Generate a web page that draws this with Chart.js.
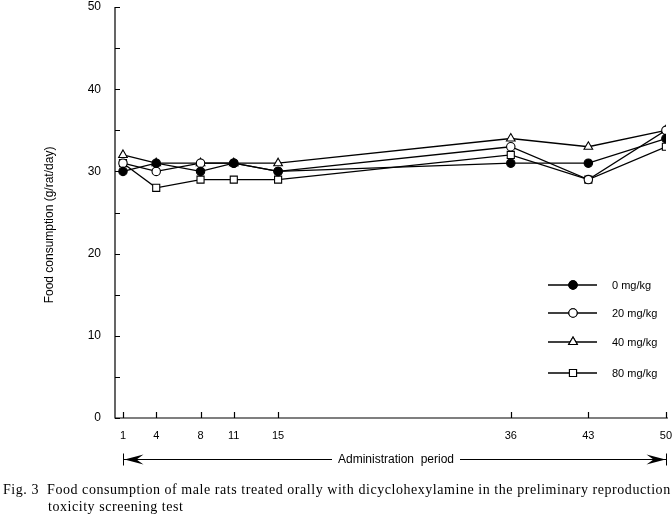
<!DOCTYPE html>
<html>
<head>
<meta charset="utf-8">
<script src="https://cdn.jsdelivr.net/npm/chart.js@4.4.0/dist/chart.umd.min.js"></script>
<style>
  body { margin: 0; background: #fff; }
  #wrap { position: relative; width: 672px; height: 515px; }
  #caption {
    position: absolute; left: 3px; top: 481px; width: 672px;
    font-family: "Liberation Serif", serif; font-size: 14px; line-height: 17px;
    letter-spacing: 0.55px; color: #000; white-space: nowrap;
  }
  #caption .ind { padding-left: 45px; }
</style>
</head>
<body>
<div id="wrap">
  <canvas id="grafico" width="672" height="515"></canvas>
  <div id="caption">Fig. 3&nbsp; Food consumption of male rats treated orally with dicyclohexylamine in the preliminary reproduction<br><span class="ind">toxicity screening test</span></div>
</div>
<script>
// dias de administracion
const dias = [1, 4, 8, 11, 15, 36, 43, 50];
const etiquetasDias = ['1', '4', '8', '11', '15', '36', '43', '50'];
const ticksY = [0, 10, 20, 30, 40, 50];

// consumo de alimento (g/rata/dia)
const dosis0 = [30, 31, 30, 31, 30, 31, 31, 34];
const dosis20 = [31, 30, 31, 31, 30, 33, 29, 35];
const dosis40 = [32, 31, 31, 31, 31, 34, 33, 35];
const dosis80 = [31, 28, 29, 29, 29, 32, 29, 33];

const nombres = ['0 mg/kg', '20 mg/kg', '40 mg/kg', '80 mg/kg'];
const estilos = [
  { pointStyle: 'circle', fill: '#000', r: 4.2 },
  { pointStyle: 'circle', fill: '#fff', r: 4.2 },
  { pointStyle: 'triangle', fill: '#fff', r: 5 },
  { pointStyle: 'rect', fill: '#fff', r: 5 }
];

function serie(valores, i) {
  return {
    label: nombres[i],
    data: dias.map((d, k) => ({ x: d, y: valores[k] })),
    borderColor: '#000',
    borderWidth: 1.3,
    pointStyle: estilos[i].pointStyle,
    pointBackgroundColor: estilos[i].fill,
    pointBorderColor: '#000',
    pointBorderWidth: 1.1,
    pointRadius: estilos[i].r,
    tension: 0
  };
}

// ejes con ticks hacia dentro, leyenda, titulo y flecha del periodo
const extras = {
  id: 'extras',
  afterDraw(chart) {
    const c = chart.ctx;
    const x = chart.scales.x, y = chart.scales.y;
    const a = chart.chartArea;
    c.save();
    c.strokeStyle = '#000';
    c.fillStyle = '#000';
    c.lineWidth = 1.2;
    c.beginPath();
    c.moveTo(a.left, a.top);
    c.lineTo(a.left, a.bottom);
    c.lineTo(a.right + 2, a.bottom);
    for (let v = 0; v <= 50; v += 5) {
      const py = Math.round(y.getPixelForValue(v)) + 0.5;
      c.moveTo(a.left, py);
      c.lineTo(a.left + 5, py);
    }
    dias.forEach(d => {
      const px = Math.round(x.getPixelForValue(d)) + 0.5;
      c.moveTo(px, a.bottom);
      c.lineTo(px, a.bottom - 6);
    });
    c.stroke();

    // titulo del eje y
    c.save();
    c.translate(50, 225);
    c.rotate(-Math.PI / 2);
    c.font = '12px "Liberation Sans", Arial, sans-serif';
    c.textAlign = 'center';
    c.textBaseline = 'middle';
    c.fillText('Food consumption (g/rat/day)', 0, 0);
    c.restore();

    // leyenda
    c.font = '11px "Liberation Sans", Arial, sans-serif';
    c.textBaseline = 'middle';
    const filas = [285, 313, 342, 373];
    chart.data.datasets.forEach((ds, i) => {
      const fy = filas[i];
      c.beginPath();
      c.lineWidth = 1.3;
      c.moveTo(548, fy);
      c.lineTo(597, fy);
      c.stroke();
      c.lineWidth = 1.1;
      c.fillStyle = ds.pointBackgroundColor;
      Chart.helpers.drawPoint(c, { pointStyle: ds.pointStyle, radius: ds.pointRadius, rotation: 0, borderWidth: 1.1 }, 573, fy);
      c.fill();
      c.stroke();
      c.fillStyle = '#000';
      c.fillText(ds.label, 612, fy + 1);
    });

    // flecha del periodo de administracion
    const x1 = Math.round(x.getPixelForValue(1)) + 0.5;
    const x2 = Math.round(x.getPixelForValue(50)) + 0.5;
    const ay = 459.5;
    c.lineWidth = 1;
    c.beginPath();
    c.moveTo(x1, ay - 6); c.lineTo(x1, ay + 6);
    c.moveTo(x2, ay - 6); c.lineTo(x2, ay + 6);
    c.moveTo(x1, ay); c.lineTo(332, ay);
    c.moveTo(460, ay); c.lineTo(x2, ay);
    c.stroke();
    c.beginPath();
    c.moveTo(x1 + 1, ay); c.lineTo(x1 + 20, ay - 5); c.lineTo(x1 + 13, ay); c.lineTo(x1 + 20, ay + 5); c.closePath();
    c.fill();
    c.beginPath();
    c.moveTo(x2 - 1, ay); c.lineTo(x2 - 20, ay - 5); c.lineTo(x2 - 13, ay); c.lineTo(x2 - 20, ay + 5); c.closePath();
    c.fill();
    c.font = '12px "Liberation Sans", Arial, sans-serif';
    c.textAlign = 'center';
    c.fillText('Administration  period', 396, ay);
    c.restore();
  }
};

document.addEventListener('DOMContentLoaded', function () {
  const ctx = document.getElementById('grafico').getContext('2d');
  new Chart(ctx, {
    type: 'line',
    data: {
      datasets: [serie(dosis0, 0), serie(dosis20, 1), serie(dosis40, 2), serie(dosis80, 3)]
    },
    options: {
      responsive: false,
      animation: false,
      layout: { padding: { top: 7, right: 6, bottom: 0, left: 0 } },
      plugins: { legend: { display: false }, tooltip: { enabled: false } },
      scales: {
        x: {
          type: 'linear',
          min: 0.28,
          max: 50,
          afterBuildTicks: s => { s.ticks = dias.map(v => ({ value: v })); },
          afterFit: s => { s.height = 97; s.paddingLeft = 0; s.paddingRight = 0; },
          ticks: {
            autoSkip: false,
            maxRotation: 0,
            padding: 11,
            color: '#000',
            font: { family: '"Liberation Sans", Arial, sans-serif', size: 11 },
            callback: (v) => etiquetasDias[dias.indexOf(v)]
          },
          grid: { display: false, drawTicks: false },
          border: { display: false }
        },
        y: {
          min: 0,
          max: 50,
          afterBuildTicks: s => { s.ticks = ticksY.map(v => ({ value: v })); },
          afterFit: s => { s.width = 115; s.paddingTop = 0; s.paddingBottom = 0; },
          ticks: {
            padding: 14,
            color: '#000',
            font: { family: '"Liberation Sans", Arial, sans-serif', size: 12 }
          },
          grid: { display: false, drawTicks: false },
          border: { display: false }
        }
      }
    },
    plugins: [extras]
  });
});
</script>
</body>
</html>
